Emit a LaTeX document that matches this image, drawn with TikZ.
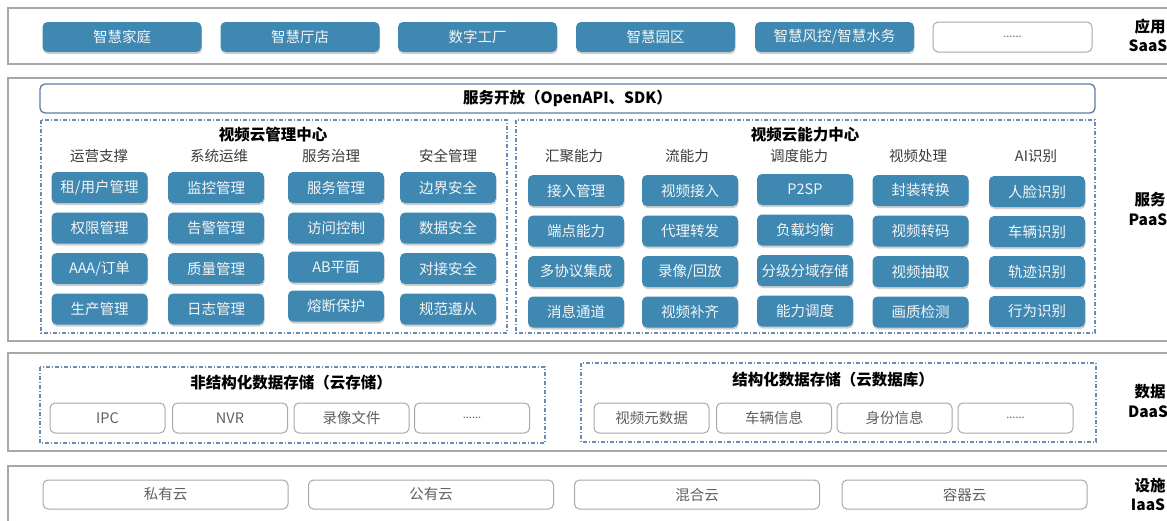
\documentclass[tikz,border=0pt]{standalone}
\usepackage{fontspec}
\setmainfont{Noto Sans CJK SC}
\usetikzlibrary{shadows}

\definecolor{tileblue}{RGB}{62,136,178}
\definecolor{layerline}{RGB}{168,168,168}
\definecolor{barline}{RGB}{92,124,162}
\definecolor{dashblue}{RGB}{104,140,180}
\definecolor{plaintext}{RGB}{96,96,96}
\definecolor{headtext}{RGB}{60,60,60}

\newcommand\tilefont{\fontsize{14.5}{16}\selectfont}
\newcommand\titlefont{\fontsize{15.5}{17}\selectfont\bfseries}

\tikzset{
  layer/.style={draw=layerline, line width=1.3pt, fill=white},
  tile/.style={fill=tileblue, rounded corners=5pt, text=white!96!black,
    minimum width=96pt, minimum height=31pt, inner sep=0pt, font=\tilefont,
    drop shadow={shadow xshift=0.6pt, shadow yshift=-2pt, opacity=0.3, fill=black!60}},
  apptile/.style={tile, minimum width=159pt, minimum height=30pt},
  plainbox/.style={draw=layerline, line width=1pt, rounded corners=5pt, fill=white,
    text=plaintext, minimum height=30pt, inner sep=0pt, font=\tilefont},
  zone/.style={draw=dashblue, line width=1.1pt, dash pattern=on 4pt off 2pt on 1pt off 2pt},
  colhead/.style={text=headtext, font=\tilefont, inner sep=0pt},
  zonetitle/.style={font=\titlefont, inner sep=0pt},
  tier/.style={font=\titlefont, inner sep=0pt, align=center}
}

\begin{document}
\begin{tikzpicture}[x=1pt, y=-1pt]
\useasboundingbox (0,0) rectangle (1167,520);
\clip (0,0) rectangle (1167,520);
\fill[white] (0,0) rectangle (1167,520);

% ---- four layer frames ----
\draw[layer] (8,8) rectangle (1185,64);
\draw[layer] (8,78) rectangle (1185,341);
\draw[layer] (8,353) rectangle (1185,451);
\draw[layer] (8,466) rectangle (1185,530);

% ---- application layer ----
\node[apptile] (app1) at (122,37) {智慧家庭};
\node[apptile] (app2) at (300,37) {智慧厅店};
\node[apptile] (app3) at (477.5,37) {数字工厂};
\node[apptile] (app4) at (655.5,37) {智慧园区};
\node[apptile] (app5) at (834.5,37) {智慧风控/智慧水务};
\node[plainbox, minimum width=159pt] (app6) at (1012.5,37) {\fontsize{11}{12}\selectfont ......};

% ---- open service bar ----
\node[draw=barline, line width=1.3pt, rounded corners=5pt, minimum width=1055pt,
      minimum height=29pt, inner sep=0pt, font=\titlefont] (open) at (567.5,98.5)
      {服务开放（OpenAPI、SDK）};

% ---- management centre ----
\draw[zone] (41,120) rectangle (507,333);
\node[zonetitle] (mgmt) at (273,135) {视频云管理中心};
\node[colhead] (mh1) at (99,156) {运营支撑};
\node[colhead] (mh2) at (219,156) {系统运维};
\node[colhead] (mh3) at (331,156) {服务治理};
\node[colhead] (mh4) at (448,156) {安全管理};

\foreach \t [count=\r] in {租/用户管理,权限管理,AAA/订单,生产管理}
  \node[tile] (ma\r) at (99.5,{147+40.5*\r}) {\t};
\foreach \t [count=\r] in {监控管理,告警管理,质量管理,日志管理}
  \node[tile] (mb\r) at (216,{147+40.5*\r}) {\t};
\node[tile] (mc1) at (336,187.5) {服务管理};
\node[tile] (mc2) at (336,228) {访问控制};
\node[tile] (mc3) at (336,267) {AB平面};
\node[tile] (mc4) at (336,306) {熔断保护};
\foreach \t [count=\r] in {边界安全,数据安全,对接安全,规范遵从}
  \node[tile] (md\r) at (448,{147+40.5*\r}) {\t};

% ---- capability centre ----
\draw[zone] (516,120) rectangle (1095,333);
\node[zonetitle] (cap) at (805,135) {视频云能力中心};
\node[colhead] (ch1) at (574,156) {汇聚能力};
\node[colhead] (ch2) at (687,156) {流能力};
\node[colhead] (ch3) at (799,156) {调度能力};
\node[colhead] (ch4) at (918,156) {视频处理};
\node[colhead] (ch5) at (1036,156) {AI识别};

\foreach \t [count=\r] in {接入管理,端点能力,多协议集成,消息通道}
  \node[tile] (ca\r) at (576,{150+40.5*\r}) {\t};
\foreach \t [count=\r] in {视频接入,代理转发,录像/回放,视频补齐}
  \node[tile] (cb\r) at (690,{150+40.5*\r}) {\t};
\foreach \t [count=\r] in {P2SP,负载均衡,分级分域存储,能力调度}
  \node[tile] (cc\r) at (805,{149+40.5*\r}) {\t};
\foreach \t [count=\r] in {封装转换,视频转码,视频抽取,画质检测}
  \node[tile] (cd\r) at (920.5,{150+40.5*\r}) {\t};
\foreach \t [count=\r] in {人脸识别,车辆识别,轨迹识别,行为识别}
  \node[tile] (ce\r) at (1037,{151.5+40*\r}) {\t};

% ---- data layer ----
\draw[zone] (40,367) rectangle (545,443);
\node[zonetitle] (unstr) at (291,383) {非结构化数据存储（云存储）};
\node[plainbox, minimum width=115pt] (ua) at (107.5,418) {IPC};
\node[plainbox, minimum width=115pt] (ub) at (230,418) {NVR};
\node[plainbox, minimum width=115pt] (uc) at (351.5,418) {录像文件};
\node[plainbox, minimum width=115pt] (ud) at (472,418) {\fontsize{11}{12}\selectfont ......};

\draw[zone] (581,363) rectangle (1096,442);
\node[zonetitle] (str) at (833,380) {结构化数据存储（云数据库）};
\node[plainbox, minimum width=115pt] (sa) at (651.5,418) {视频元数据};
\node[plainbox, minimum width=115pt] (sb) at (774,418) {车辆信息};
\node[plainbox, minimum width=115pt] (sc) at (894.5,418) {身份信息};
\node[plainbox, minimum width=115pt] (sd) at (1015.5,418) {\fontsize{11}{12}\selectfont ......};

% ---- infrastructure layer ----
\node[plainbox, minimum width=245pt, minimum height=29pt] (ia) at (165.5,494.5) {私有云};
\node[plainbox, minimum width=245pt, minimum height=29pt] (ib) at (431,494.5) {公有云};
\node[plainbox, minimum width=245pt, minimum height=29pt] (ic) at (697,494.5) {混合云};
\node[plainbox, minimum width=245pt, minimum height=29pt] (id) at (964.5,494.5) {容器云};

% ---- tier labels ----
\node[tier] (t1a) at (1150,27) {应用};
\node[tier] (t1b) at (1148,46) {SaaS};
\node[tier] (t2a) at (1150,200) {服务};
\node[tier] (t2b) at (1148,220) {PaaS};
\node[tier] (t3a) at (1150,392) {数据};
\node[tier] (t3b) at (1148,412) {DaaS};
\node[tier] (t4a) at (1150,486) {设施};
\node[tier] (t4b) at (1148,505) {IaaS};
\end{tikzpicture}
\end{document}
